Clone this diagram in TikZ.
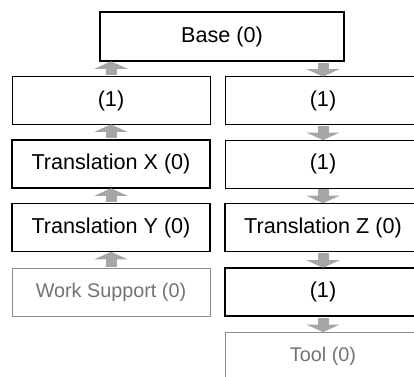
\documentclass[tikz,border=0pt]{standalone}
\usepackage{fontspec}
\setmainfont{Liberation Sans}
\usetikzlibrary{arrows.meta}
\begin{document}
\begin{tikzpicture}[x=1pt,y=-1pt,
  box/.style={draw=black, line width=0.8pt, fill=white, inner sep=0pt,
    minimum height=48pt, font=\fontsize{21.6}{24}\selectfont},
  boldbox/.style={box, line width=1.6pt},
  faintbox/.style={box, draw=black!45, text=black!55, line width=0.8pt,
    font=\fontsize{19.8}{23}\selectfont},
  leftbox/.style={minimum width=198pt},
  rightbox/.style={minimum width=196pt},
  flow/.style={draw=black!35, line width=11pt,
    -{Triangle[width=33pt,length=7.5pt]}, shorten <=0.8pt, shorten >=-0.5pt}]
  \useasboundingbox (0,0) rectangle (414,376);
  \clip (0,0) rectangle (414,376);

  % top of the chain
  \node[boldbox, minimum width=244pt, minimum height=49pt] (base) at (222,36.5) {Base (0)};

  % left branch
  \node[box, leftbox] (l1) at (111,100.5) {(1)};
  \node[boldbox, leftbox] (l2) at (111,164) {Translation X (0)};
  \node[boldbox, leftbox] (l3) at (111,227.5) {Translation Y (0)};
  \node[faintbox, leftbox] (l4) at (111,292) {Work Support (0)};

  % right branch
  \node[box, rightbox] (r1) at (323,100.5) {(1)};
  \node[box, rightbox] (r2) at (323,164) {(1)};
  \node[boldbox, rightbox] (r3) at (323,227.5) {Translation Z (0)};
  \node[boldbox, rightbox] (r4) at (323,292) {(1)};
  \node[faintbox, rightbox, minimum height=49pt] (r5) at (323,356.5) {Tool (0)};

  % left branch: arrows pointing up
  \draw[flow] (l1.north) -- (l1.north |- base.south);
  \draw[flow] (l2.north) -- (l1.south);
  \draw[flow] (l3.north) -- (l2.south);
  \draw[flow] (l4.north) -- (l3.south);

  % right branch: arrows pointing down
  \draw[flow] (r1.north |- base.south) -- (r1.north);
  \draw[flow] (r1.south) -- (r2.north);
  \draw[flow] (r2.south) -- (r3.north);
  \draw[flow] (r3.south) -- (r4.north);
  \draw[flow] (r4.south) -- (r5.north);
\end{tikzpicture}
\end{document}
